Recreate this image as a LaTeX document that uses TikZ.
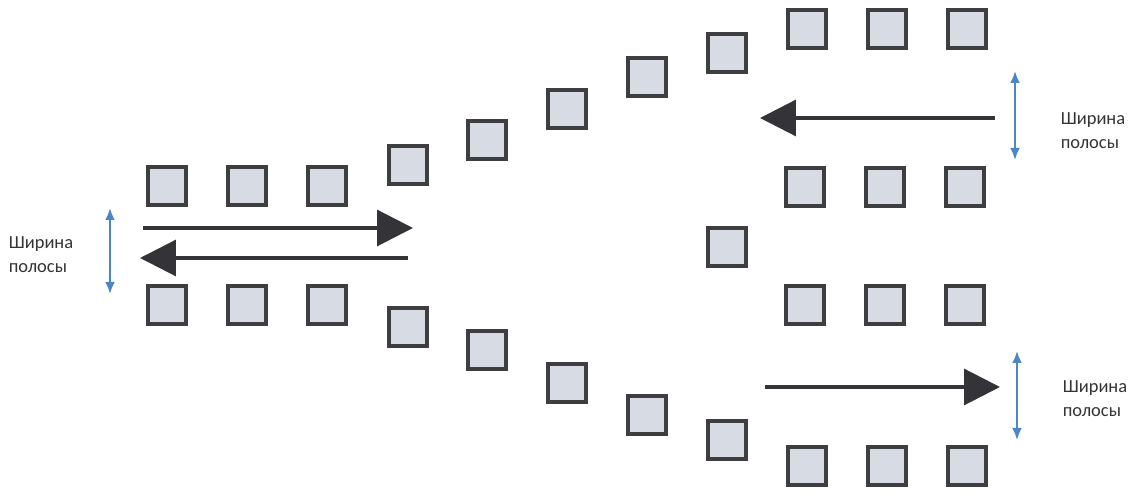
\documentclass[tikz,border=0pt]{standalone}
\usepackage{fontspec}
\setsansfont{Carlito}
\usepackage{xcolor}
\usepackage{tikz}
\usetikzlibrary{arrows.meta, positioning}
\definecolor{boxfill}{RGB}{214,219,228}
\definecolor{boxedge}{RGB}{62,62,64}
\definecolor{flowgray}{RGB}{52,52,56}
\definecolor{widthblue}{RGB}{74,134,200}

\begin{document}
\begin{tikzpicture}[x=0.02cm, y=-0.02cm, node distance=0.746cm,
    cell/.style={rectangle, draw=boxedge, fill=boxfill, line width=2.4pt, minimum size=0.77cm, inner sep=0pt},
    flow/.style={draw=flowgray, line width=1.8pt, -{Triangle[length=0.72cm, width=0.72cm]}},
    lanewidth/.style={draw=widthblue, line width=1.6pt, {Latex[length=0.24cm, width=0.2cm]}-{Latex[length=0.24cm, width=0.2cm]}},
    lanelabel/.style={font=\sffamily\fontsize{10.5}{13.5}\selectfont, align=left, text=black!80}]
    \useasboundingbox (0,0) rectangle (1137,492);

    % Left road
    \node[cell] (lt1) at (167,186) {};
    \node[cell, right=of lt1] (lt2) {};
    \node[cell, right=of lt2] (lt3) {};
    \node[cell] (lb1) at (167,305) {};
    \node[cell, right=of lb1] (lb2) {};
    \node[cell, right=of lb2] (lb3) {};

    % Upper branch
    \node[cell] (ud1) at (408,165) {};
    \node[cell] (ud2) at (487,140) {};
    \node[cell] (ud3) at (567,109) {};
    \node[cell] (ud4) at (647,77) {};
    \node[cell] (ud5) at (727,53) {};
    \node[cell] (rt1) at (807,29) {};
    \node[cell, right=of rt1] (rt2) {};
    \node[cell, right=of rt2] (rt3) {};
    \node[cell] (ru1) at (805,187) {};
    \node[cell, right=of ru1] (ru2) {};
    \node[cell, right=of ru2] (ru3) {};

    % Middle
    \node[cell] (mid) at (727,247) {};

    % Lower branch
    \node[cell] (rl1) at (805,305) {};
    \node[cell, right=of rl1] (rl2) {};
    \node[cell, right=of rl2] (rl3) {};
    \node[cell] (ld1) at (408,327) {};
    \node[cell] (ld2) at (487,350) {};
    \node[cell] (ld3) at (567,383) {};
    \node[cell] (ld4) at (647,415) {};
    \node[cell] (ld5) at (727,440) {};
    \node[cell] (rb1) at (807,466) {};
    \node[cell, right=of rb1] (rb2) {};
    \node[cell, right=of rb2] (rb3) {};

    % Arrows
    \coordinate (outL-s) at (143,228);
    \coordinate (outL-e) at (413,228);
    \coordinate (inL-s) at (408,258);
    \coordinate (inL-e) at (140,258);
    \coordinate (inR-s) at (995,118);
    \coordinate (inR-e) at (760,118);
    \coordinate (outR-s) at (765,387);
    \coordinate (outR-e) at (1000,387);
    \draw[flow] (outL-s) -- (outL-e);
    \draw[flow] (inL-s) -- (inL-e);
    \draw[flow] (inR-s) -- (inR-e);
    \draw[flow] (outR-s) -- (outR-e);

    % Lane width
    \coordinate (wl-t) at (110,208);
    \coordinate (wl-b) at (110,294);
    \coordinate (wu-t) at (1015,71);
    \coordinate (wu-b) at (1015,160);
    \coordinate (wd-t) at (1017,351);
    \coordinate (wd-b) at (1017,440);
    \draw[lanewidth] (wl-t) -- (wl-b);
    \draw[lanewidth] (wu-t) -- (wu-b);
    \draw[lanewidth] (wd-t) -- (wd-b);

    % Labels
    \node[lanelabel] (labL) at (41,255) {Ширина\\полосы};
    \node[lanelabel] (labU) at (1093,131) {Ширина\\полосы};
    \node[lanelabel] (labD) at (1095,399) {Ширина\\полосы};
\end{tikzpicture}
\end{document}
